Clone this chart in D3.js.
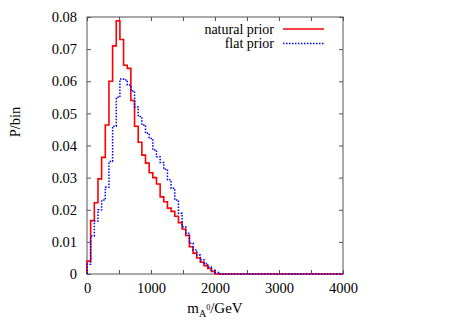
<!DOCTYPE html>
<html>
<head>
<meta charset="utf-8">
<script src="https://cdn.jsdelivr.net/npm/d3@7"></script>
<style>
  body { margin: 0; background: #fff; }
  text { font-family: "Liberation Serif", "DejaVu Serif", serif; fill: #000; }
</style>
</head>
<body>
<div id="chart"></div>
<script>
// histogram bins: 70 bins over 0..4000 GeV
var xMax = 4000;
var nBins = 70;
var binWidth = xMax / nBins;

// P/bin, natural prior (red, solid) - bins after the last one are empty
var naturalPrior = [0.004, 0.0166, 0.0222, 0.0296, 0.0363, 0.0464, 0.060, 0.071, 0.0788, 0.073,
  0.065, 0.064, 0.054, 0.046, 0.041, 0.037, 0.0345, 0.0315, 0.030, 0.028,
  0.024, 0.0225, 0.0205, 0.0195, 0.018, 0.016, 0.014, 0.012, 0.0085, 0.0065,
  0.005, 0.0037, 0.0026, 0.0017, 0.0008];

// P/bin, flat prior (blue, dotted)
var flatPrior = [0.003, 0.0118, 0.0165, 0.020, 0.023, 0.027, 0.035, 0.046, 0.055, 0.0607,
  0.0604, 0.0588, 0.057, 0.052, 0.049, 0.0464, 0.0438, 0.0422, 0.0386, 0.0365,
  0.0347, 0.0326, 0.0293, 0.0267, 0.023, 0.0189, 0.0147, 0.0127, 0.0096, 0.0075,
  0.0059, 0.0044, 0.0033, 0.0022, 0.0012, 0.0005];

var xTicks = [0, 1000, 2000, 3000, 4000];
var xMinorTicks = [500, 1500, 2500, 3500];
var yTicks = [0, 0.01, 0.02, 0.03, 0.04, 0.05, 0.06, 0.07, 0.08];

var width = 457, height = 320;
var margin = {top: 17, right: 114, bottom: 46, left: 87};
var chartWidth = width - margin.left - margin.right;
var chartHeight = height - margin.top - margin.bottom;

var svg = d3.select("#chart")
  .append("svg")
  .attr("width", width)
  .attr("height", height);

var x = d3.scaleLinear().domain([0, xMax]).range([margin.left, margin.left + chartWidth]);
var y = d3.scaleLinear().domain([0, 0.08]).range([margin.top + chartHeight, margin.top]);

var fontSize = "14.5px";

// bottom axis
var xAxis = svg.append("g")
  .attr("transform", "translate(0," + y(0) + ")")
  .call(d3.axisBottom(x).tickValues(xTicks.concat(xMinorTicks)).tickSize(-4).tickPadding(9)
    .tickFormat(function(d) { return xTicks.indexOf(d) >= 0 ? d : ""; }));
// top axis (ticks only)
var xAxisTop = svg.append("g")
  .attr("transform", "translate(0," + y(0.08) + ")")
  .call(d3.axisTop(x).tickValues(xTicks.concat(xMinorTicks)).tickSize(-4).tickFormat(""));
// left axis
var yAxis = svg.append("g")
  .attr("transform", "translate(" + x(0) + ",0)")
  .call(d3.axisLeft(y).tickValues(yTicks).tickSize(-4).tickPadding(10)
    .tickFormat(function(d) { return d === 0 ? "0" : d3.format(".2f")(d); }));
// right axis (ticks only)
var yAxisRight = svg.append("g")
  .attr("transform", "translate(" + x(xMax) + ",0)")
  .call(d3.axisRight(y).tickValues(yTicks).tickSize(-4).tickFormat(""));

[xAxis, xAxisTop, yAxis, yAxisRight].forEach(function(g) {
  g.select(".domain").remove();
  g.selectAll(".tick line").attr("stroke", "#555");
  g.selectAll("text")
    .style("font-family", "'Liberation Serif', serif")
    .style("font-size", fontSize)
    .attr("fill", "#000");
});

// frame
svg.append("rect")
  .attr("x", x(0)).attr("y", y(0.08))
  .attr("width", x(xMax) - x(0)).attr("height", y(0) - y(0.08))
  .attr("fill", "none").attr("stroke", "#555").attr("stroke-width", 1);

// step histograms
function stepPoints(vals) {
  var pts = [[0, 0]];
  vals.forEach(function(v, i) { pts.push([i * binWidth, v]); });
  pts.push([vals.length * binWidth, 0]);
  pts.push([xMax, 0]);
  return pts;
}

var line = d3.line()
  .x(function(d) { return x(d[0]); })
  .y(function(d) { return y(d[1]); })
  .curve(d3.curveStepAfter);

svg.append("path")
  .datum(stepPoints(naturalPrior))
  .attr("d", line)
  .attr("fill", "none")
  .attr("stroke", "#ff0000")
  .attr("stroke-width", 1.6);

svg.append("path")
  .datum(stepPoints(flatPrior))
  .attr("d", line)
  .attr("fill", "none")
  .attr("stroke", "#0000ff")
  .attr("stroke-width", 1.5)
  .attr("stroke-dasharray", "1.5,1.5");

// legend
var legend = [
  {label: "natural prior", color: "#ff0000", dash: null, w: 1.6},
  {label: "flat prior", color: "#0000ff", dash: "1.5,1.5", w: 1.5}
];
legend.forEach(function(d, i) {
  var ly = 29 + i * 14.5;
  svg.append("text")
    .attr("x", 274).attr("y", ly)
    .attr("dy", "0.33em")
    .attr("text-anchor", "end")
    .style("font-size", "14px")
    .text(d.label);
  svg.append("line")
    .attr("x1", 283).attr("x2", 324)
    .attr("y1", ly).attr("y2", ly)
    .attr("stroke", d.color)
    .attr("stroke-width", d.w)
    .attr("stroke-dasharray", d.dash);
});

// axis titles
svg.append("text")
  .attr("transform", "translate(20,122) rotate(-90)")
  .attr("text-anchor", "middle")
  .style("font-size", fontSize)
  .text("P/bin");

var xTitle = svg.append("text")
  .attr("x", 215).attr("y", 313)
  .attr("text-anchor", "middle")
  .style("font-size", "15px");
xTitle.append("tspan").text("m");
xTitle.append("tspan").attr("dy", 4).style("font-size", "10px").text("A");
xTitle.append("tspan").attr("dy", -7).style("font-size", "8px").text("0");
xTitle.append("tspan").attr("dy", 3).text("/GeV");
</script>
</body>
</html>
